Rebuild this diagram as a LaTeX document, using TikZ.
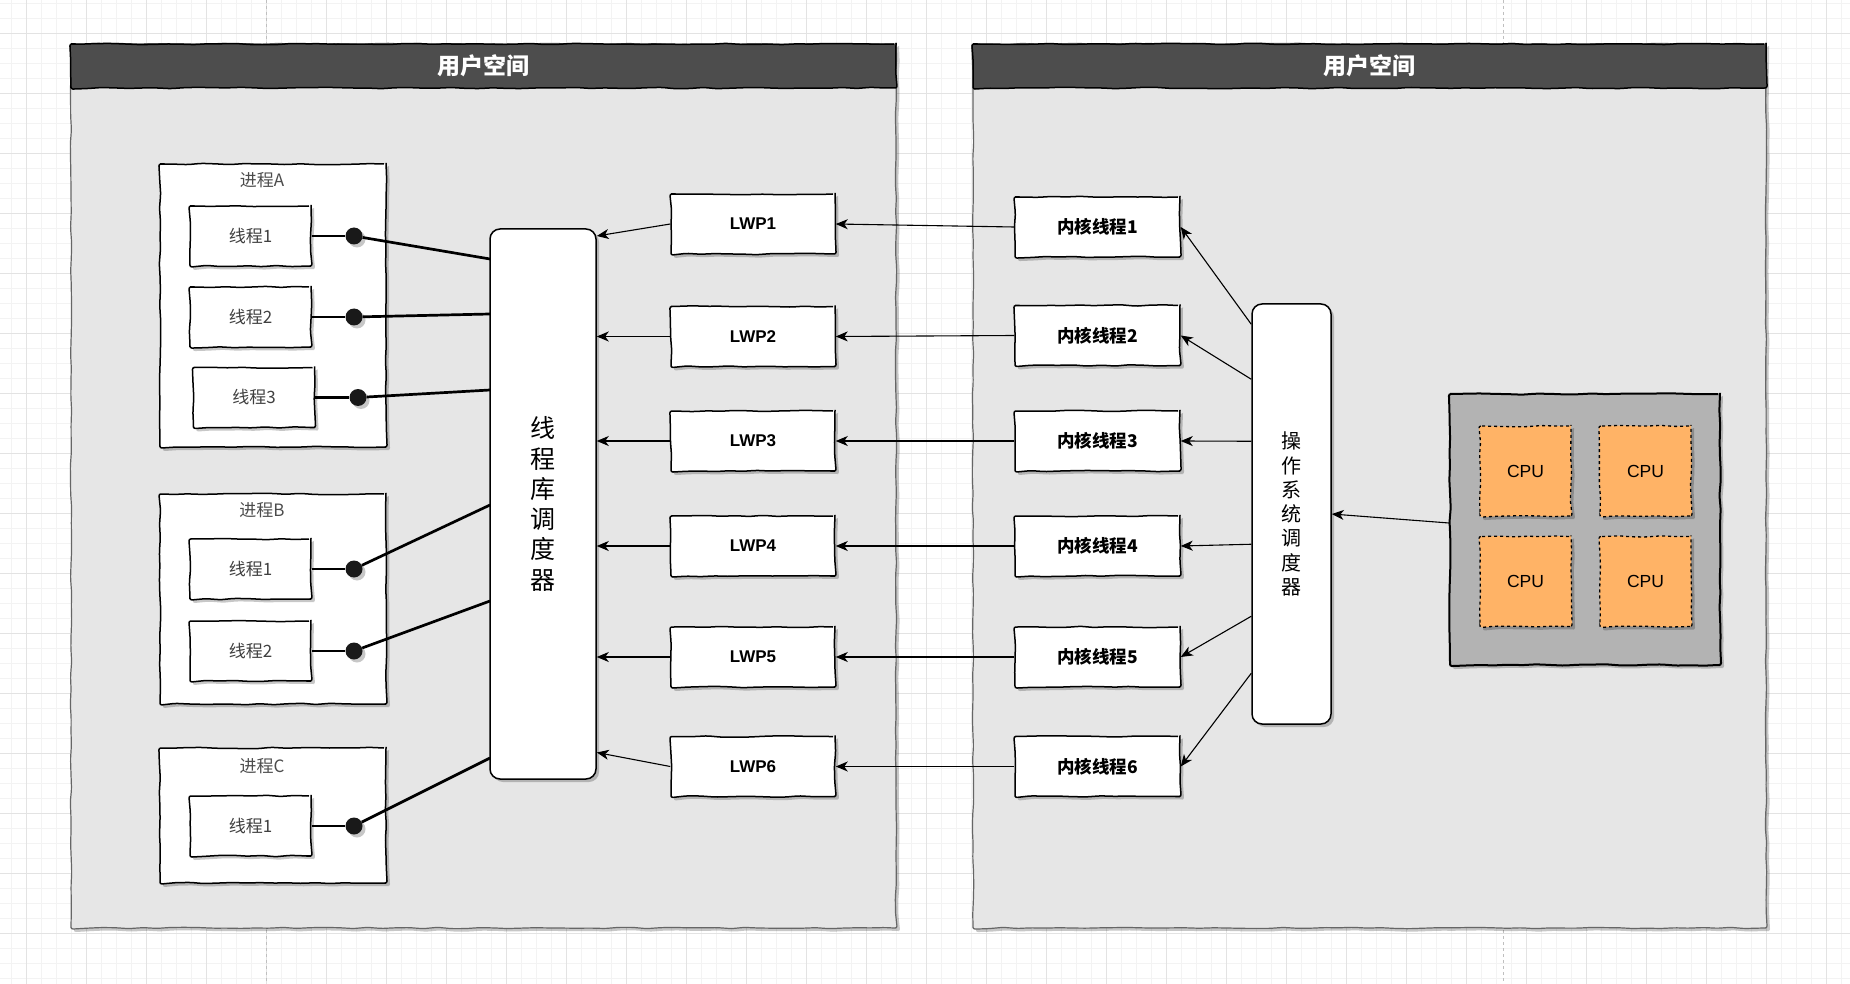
\documentclass[tikz,border=0pt]{standalone}
\usepackage{fontspec}
\setmainfont{Liberation Sans}
\newfontfamily\cjk{Noto Sans CJK SC}
\usetikzlibrary{arrows.meta,shadows,calc,decorations.pathmorphing}
\definecolor{headgray}{HTML}{4D4D4D}
\definecolor{panelgray}{HTML}{E6E6E6}
\definecolor{boxgray}{HTML}{B3B3B3}
\definecolor{cpuorange}{HTML}{FFB366}
\definecolor{gridminor}{HTML}{F3F3F3}
\definecolor{gridmajor}{HTML}{E3E3E3}
\pgfmathsetseed{7}
\begin{document}
\begin{tikzpicture}[x=1pt, y=-1pt,
shade/.style={drop shadow={shadow xshift=3pt, shadow yshift=-3pt, fill=black, opacity=0.22}},
wobble/.style={decorate, decoration={random steps, segment length=14pt, amplitude=0.7pt}, rounded corners=2pt},
panel/.style={draw=black!60, line width=1.2pt, fill=panelgray, inner sep=0pt, wobble, shade},
header/.style={draw=black, line width=1.5pt, fill=headgray, text=white, inner sep=0pt, wobble, font=\cjk\bfseries\fontsize{23}{27}\selectfont},
process/.style={draw=black, line width=1.5pt, fill=white, inner sep=0pt, minimum width=226pt, wobble, shade},
plabel/.style={inner sep=0pt, text=black!70, font=\cjk\fontsize{17}{20}\selectfont},
thread/.style={draw=black, line width=1.5pt, fill=white, inner sep=0pt, minimum width=121pt, minimum height=60pt, text=black!75, font=\cjk\fontsize{17}{20}\selectfont, wobble, shade},
dot/.style={circle, fill=black!90, inner sep=0pt, minimum size=17pt, shade},
sched/.style={draw=black, line width=1.5pt, fill=white, rounded corners=10pt, inner sep=0pt, align=center, shade},
lwp/.style={draw=black, line width=1.5pt, fill=white, inner sep=0pt, minimum width=164pt, minimum height=60pt, font=\bfseries\fontsize{17}{20}\selectfont, wobble, shade},
kthread/.style={draw=black, line width=1.5pt, fill=white, inner sep=0pt, minimum width=165pt, minimum height=60pt, font=\cjk\bfseries\fontsize{17.5}{20}\selectfont, wobble, shade},
cpubox/.style={draw=black, line width=2pt, fill=boxgray, inner sep=0pt, wobble, shade},
cpu/.style={draw=black, dashed, line width=1.3pt, fill=cpuorange, inner sep=0pt, minimum width=91pt, minimum height=90pt, font=\fontsize{17.5}{20}\selectfont, wobble, shade},
link/.style={line width=2.7pt},
arrow/.style={line width=1.1pt, -{Stealth[length=12pt, width=10pt, inset=3.5pt]}},
]
\useasboundingbox (0,0) rectangle (1850,984);
%Grid
\fill[white] (0,0) rectangle (1850,984);
\foreach \i in {0,...,123} \draw[gridminor, line width=0.8pt] ({11.5+15*\i},0) -- ++(0,984);
\foreach \i in {0,...,65} \draw[gridminor, line width=0.8pt] (0,{3+15*\i}) -- ++(1850,0);
\foreach \i in {0,...,30} \draw[gridmajor, line width=0.9pt] ({26.5+60*\i},0) -- ++(0,984);
\foreach \i in {0,...,16} \draw[gridmajor, line width=0.9pt] (0,{33+60*\i}) -- ++(1850,0);
\draw[black!25, dashed] (266.5,0) -- (266.5,984);
\draw[black!25, dashed] (1503,0) -- (1503,984);

%Panels
\node[panel, minimum width=825pt, minimum height=884pt] (lpanel) at (483.5,486) {};
\node[header, minimum width=825pt, minimum height=44pt] (lhead) at (483.5,66) {用户空间};
\node[panel, minimum width=793pt, minimum height=884pt] (rpanel) at (1369.5,486) {};
\node[header, minimum width=793pt, minimum height=44pt] (rhead) at (1369.5,66) {用户空间};

%Processes
\node[process, minimum height=283pt] (pa) at (273,305.5) {};
\node[process, minimum height=210pt] (pb) at (273,599) {};
\node[process, minimum height=135pt] (pc) at (273,815.5) {};
\node[plabel] (lpa) at (262,180) {进程A};
\node[plabel] (lpb) at (262,510) {进程B};
\node[plabel] (lpc) at (262,766) {进程C};

%Threads
\node[thread] (a1) at (250.5,236) {线程1};
\node[thread] (a2) at (250.5,317) {线程2};
\node[thread] (a3) at (254,397.5) {线程3};
\node[thread] (b1) at (250.5,569) {线程1};
\node[thread] (b2) at (250.5,651) {线程2};
\node[thread] (c1) at (250.5,826) {线程1};

%Thread library scheduler
\node[sched, minimum width=106pt, minimum height=550pt, font=\cjk\fontsize{25}{30.3}\selectfont] (lib) at (543,504) {线\\程\\库\\调\\度\\器};
\coordinate (ea1) at (490,259);
\coordinate (ea2) at (490,314);
\coordinate (ea3) at (490,390);
\coordinate (eb1) at (490,505);
\coordinate (eb2) at (490,601);
\coordinate (ec1) at (490,758);

%Dots
\node[dot] (da1) at (354,236) {};
\node[dot] (da2) at (354,317) {};
\node[dot] (da3) at (358,397.5) {};
\node[dot] (db1) at (354,569) {};
\node[dot] (db2) at (354,651) {};
\node[dot] (dc1) at (354,826) {};

%Thread -- dot -- scheduler
\draw[link] (a1.east) -- (da1);
\draw[link] (a2.east) -- (da2);
\draw[link] (a3.east) -- (da3);
\draw[link] (b1.east) -- (db1);
\draw[link] (b2.east) -- (db2);
\draw[link] (c1.east) -- (dc1);
\draw[link] (da1) -- (ea1);
\draw[link] (da2) -- (ea2);
\draw[link] (da3) -- (ea3);
\draw[link] (db1) -- (eb1);
\draw[link] (db2) -- (eb2);
\draw[link] (dc1) -- (ec1);

%LWPs
\node[lwp] (lwp1) at (753,224) {LWP1};
\node[lwp] (lwp2) at (753,336.5) {LWP2};
\node[lwp] (lwp3) at (753,441) {LWP3};
\node[lwp] (lwp4) at (753,546) {LWP4};
\node[lwp] (lwp5) at (753,657) {LWP5};
\node[lwp] (lwp6) at (753,766.5) {LWP6};

%Kernel threads
\node[kthread] (kt1) at (1097.5,227) {内核线程1};
\node[kthread] (kt2) at (1097.5,335.5) {内核线程2};
\node[kthread] (kt3) at (1097.5,441) {内核线程3};
\node[kthread] (kt4) at (1097.5,546) {内核线程4};
\node[kthread] (kt5) at (1097.5,657) {内核线程5};
\node[kthread] (kt6) at (1097.5,766.5) {内核线程6};

%OS scheduler
\node[sched, minimum width=79pt, minimum height=420pt, font=\cjk\fontsize{20}{24.3}\selectfont] (os) at (1291.5,514) {操\\作\\系\\统\\调\\度\\器};

%CPUs
\node[cpubox, minimum width=270pt, minimum height=271pt] (cpus) at (1585,529.5) {};
\node[cpu] (cpu1) at (1525.5,471) {CPU};
\node[cpu] (cpu2) at (1645.5,471) {CPU};
\node[cpu] (cpu3) at (1525.5,581.5) {CPU};
\node[cpu] (cpu4) at (1645.5,581.5) {CPU};

%LWP -> scheduler
\draw[arrow] (lwp1.west) -- ($(lwp1.west -| lib.east)+(0,12)$);
\draw[arrow] (lwp2.west) -- (lwp2.west -| lib.east);
\draw[arrow] (lwp3.west) -- (lwp3.west -| lib.east);
\draw[arrow] (lwp4.west) -- (lwp4.west -| lib.east);
\draw[arrow] (lwp5.west) -- (lwp5.west -| lib.east);
\draw[arrow] (lwp6.west) -- ($(lwp6.west -| lib.east)+(0,-14)$);

%Kernel thread -> LWP
\foreach \n in {1,...,6} \draw[arrow] (kt\n.west) -- (lwp\n.east);

%OS scheduler -> kernel threads
\draw[arrow] ($(os.north west)+(0,21)$) -- (kt1.east);
\draw[arrow] ($(os.north west)+(0,76)$) -- (kt2.east);
\draw[arrow] ($(os.north west)+(0,138)$) -- (kt3.east);
\draw[arrow] ($(os.north west)+(0,241)$) -- (kt4.east);
\draw[arrow] ($(os.north west)+(0,313)$) -- (kt5.east);
\draw[arrow] ($(os.north west)+(0,370)$) -- (kt6.east);

%CPUs -> OS scheduler
\draw[arrow] ($(cpus.west)+(0,-6.5)$) -- (os.east);
\end{tikzpicture}
\end{document}
